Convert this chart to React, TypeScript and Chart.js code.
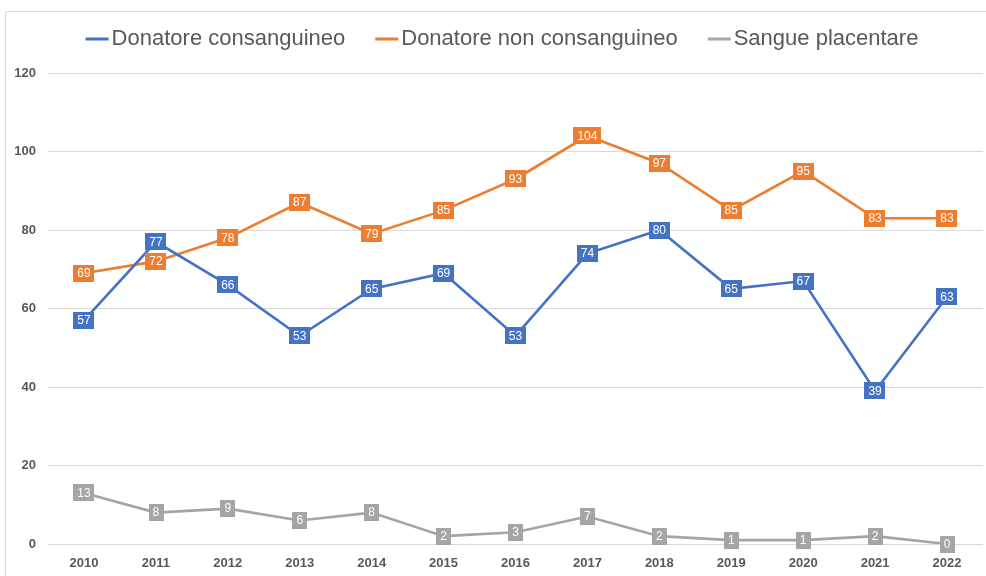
import React, { useEffect, useRef } from "react";
import { Chart, registerables } from "chart.js";

Chart.register(...registerables);

const years = ["2010","2011","2012","2013","2014","2015","2016","2017","2018","2019","2020","2021","2022"];
const consanguineo = [57, 77, 66, 53, 65, 69, 53, 74, 80, 65, 67, 39, 63];
const nonConsanguineo = [69, 72, 78, 87, 79, 85, 93, 104, 97, 85, 95, 83, 83];
const placentare = [13, 8, 9, 6, 8, 2, 3, 7, 2, 1, 1, 2, 0];
const seriesNames = ["Donatore consanguineo", "Donatore non consanguineo", "Sangue placentare"];
const seriesColors = ["#4472C4", "#ED7D31", "#A5A5A5"];
const yTicks = [0, 20, 40, 60, 80, 100, 120];

const TEXT = "#595959";
const LEGEND_FONT = "22px 'Liberation Sans', sans-serif";

const framePlugin = {
  id: "frame",
  beforeDraw(chart: any) {
    const ctx = chart.ctx;
    ctx.save();
    ctx.strokeStyle = "#d9d9d9";
    ctx.lineWidth = 1;
    ctx.beginPath();
    ctx.moveTo(5.5, chart.height);
    ctx.lineTo(5.5, 11.5);
    ctx.lineTo(chart.width, 11.5);
    ctx.stroke();
    ctx.restore();
  },
};

const legendPlugin = {
  id: "customLegend",
  afterDraw(chart: any) {
    const ctx = chart.ctx;
    ctx.save();
    ctx.font = LEGEND_FONT;
    const markerW = 23;
    const gap = 3;
    const itemGap = 30;
    const widths = seriesNames.map((n) => ctx.measureText(n).width);
    const total = widths.reduce((a, w) => a + markerW + gap + w, 0) + itemGap * (seriesNames.length - 1);
    let x = 502 - total / 2;
    const y = 39;
    seriesNames.forEach((n, i) => {
      ctx.fillStyle = seriesColors[i];
      ctx.fillRect(x, y - 1.5, markerW, 3);
      x += markerW + gap;
      ctx.fillStyle = TEXT;
      ctx.textBaseline = "middle";
      ctx.textAlign = "left";
      ctx.fillText(n, x, y);
      x += widths[i] + itemGap;
    });
    ctx.restore();
  },
};

const labelPlugin = {
  id: "boxLabels",
  afterDatasetsDraw(chart: any) {
    const ctx = chart.ctx;
    ctx.save();
    ctx.font = "12px 'Liberation Sans', sans-serif";
    ctx.textAlign = "center";
    ctx.textBaseline = "middle";
    chart.data.datasets.forEach((ds: any, di: number) => {
      const meta = chart.getDatasetMeta(di);
      meta.data.forEach((pt: any, i: number) => {
        const txt = String(ds.data[i]);
        const w = ctx.measureText(txt).width + 8;
        const h = 17;
        ctx.fillStyle = seriesColors[di];
        ctx.fillRect(Math.round(pt.x - w / 2), Math.round(pt.y - h / 2), Math.round(w), h);
        ctx.fillStyle = "#ffffff";
        ctx.fillText(txt, pt.x, pt.y + 0.5);
      });
    });
    ctx.restore();
  },
};

export default function App() {
  const ref = useRef<HTMLCanvasElement>(null);
  useEffect(() => {
    const prevMargin = document.body.style.margin;
    document.body.style.margin = "0";
    const series = [consanguineo, nonConsanguineo, placentare];
    const chart = new Chart(ref.current!, {
      type: "line",
      data: {
        labels: years,
        datasets: series.map((d, i) => ({
          label: seriesNames[i],
          data: d,
          borderColor: seriesColors[i],
          backgroundColor: seriesColors[i],
          borderWidth: 2.6,
          pointRadius: 0,
          tension: 0,
        })),
      },
      options: {
        responsive: false,
        animation: false,
        layout: { padding: { left: 0, top: 73, right: 3, bottom: 0 } },
        plugins: {
          legend: { display: false },
          tooltip: { enabled: false },
        },
        scales: {
          x: {
            offset: true,
            grid: { display: false, drawTicks: false },
            border: { display: false },
            ticks: {
              color: TEXT,
              font: { family: "'Liberation Sans', sans-serif", size: 13, weight: "bold" },
              padding: 12,
              maxRotation: 0,
            },
            afterFit: (s: any) => { s.height = 32; },
          },
          y: {
            min: 0,
            max: 120,
            afterBuildTicks: (s: any) => { s.ticks = yTicks.map((v) => ({ value: v })); },
            grid: { color: "#d9d9d9", lineWidth: 1, drawTicks: false },
            border: { display: false },
            ticks: {
              color: TEXT,
              font: { family: "'Liberation Sans', sans-serif", size: 13, weight: "bold" },
              padding: 12,
            },
            afterFit: (s: any) => { s.width = 48; },
          },
        },
      },
      plugins: [framePlugin, legendPlugin, labelPlugin],
    });
    return () => {
      chart.destroy();
      document.body.style.margin = prevMargin;
    };
  }, []);
  return (
    <div style={{ position: "absolute", left: 0, top: 0, width: 986, height: 576, background: "#fff" }}>
      <canvas ref={ref} width={986} height={576} style={{ width: 986, height: 576 }} />
    </div>
  );
}
